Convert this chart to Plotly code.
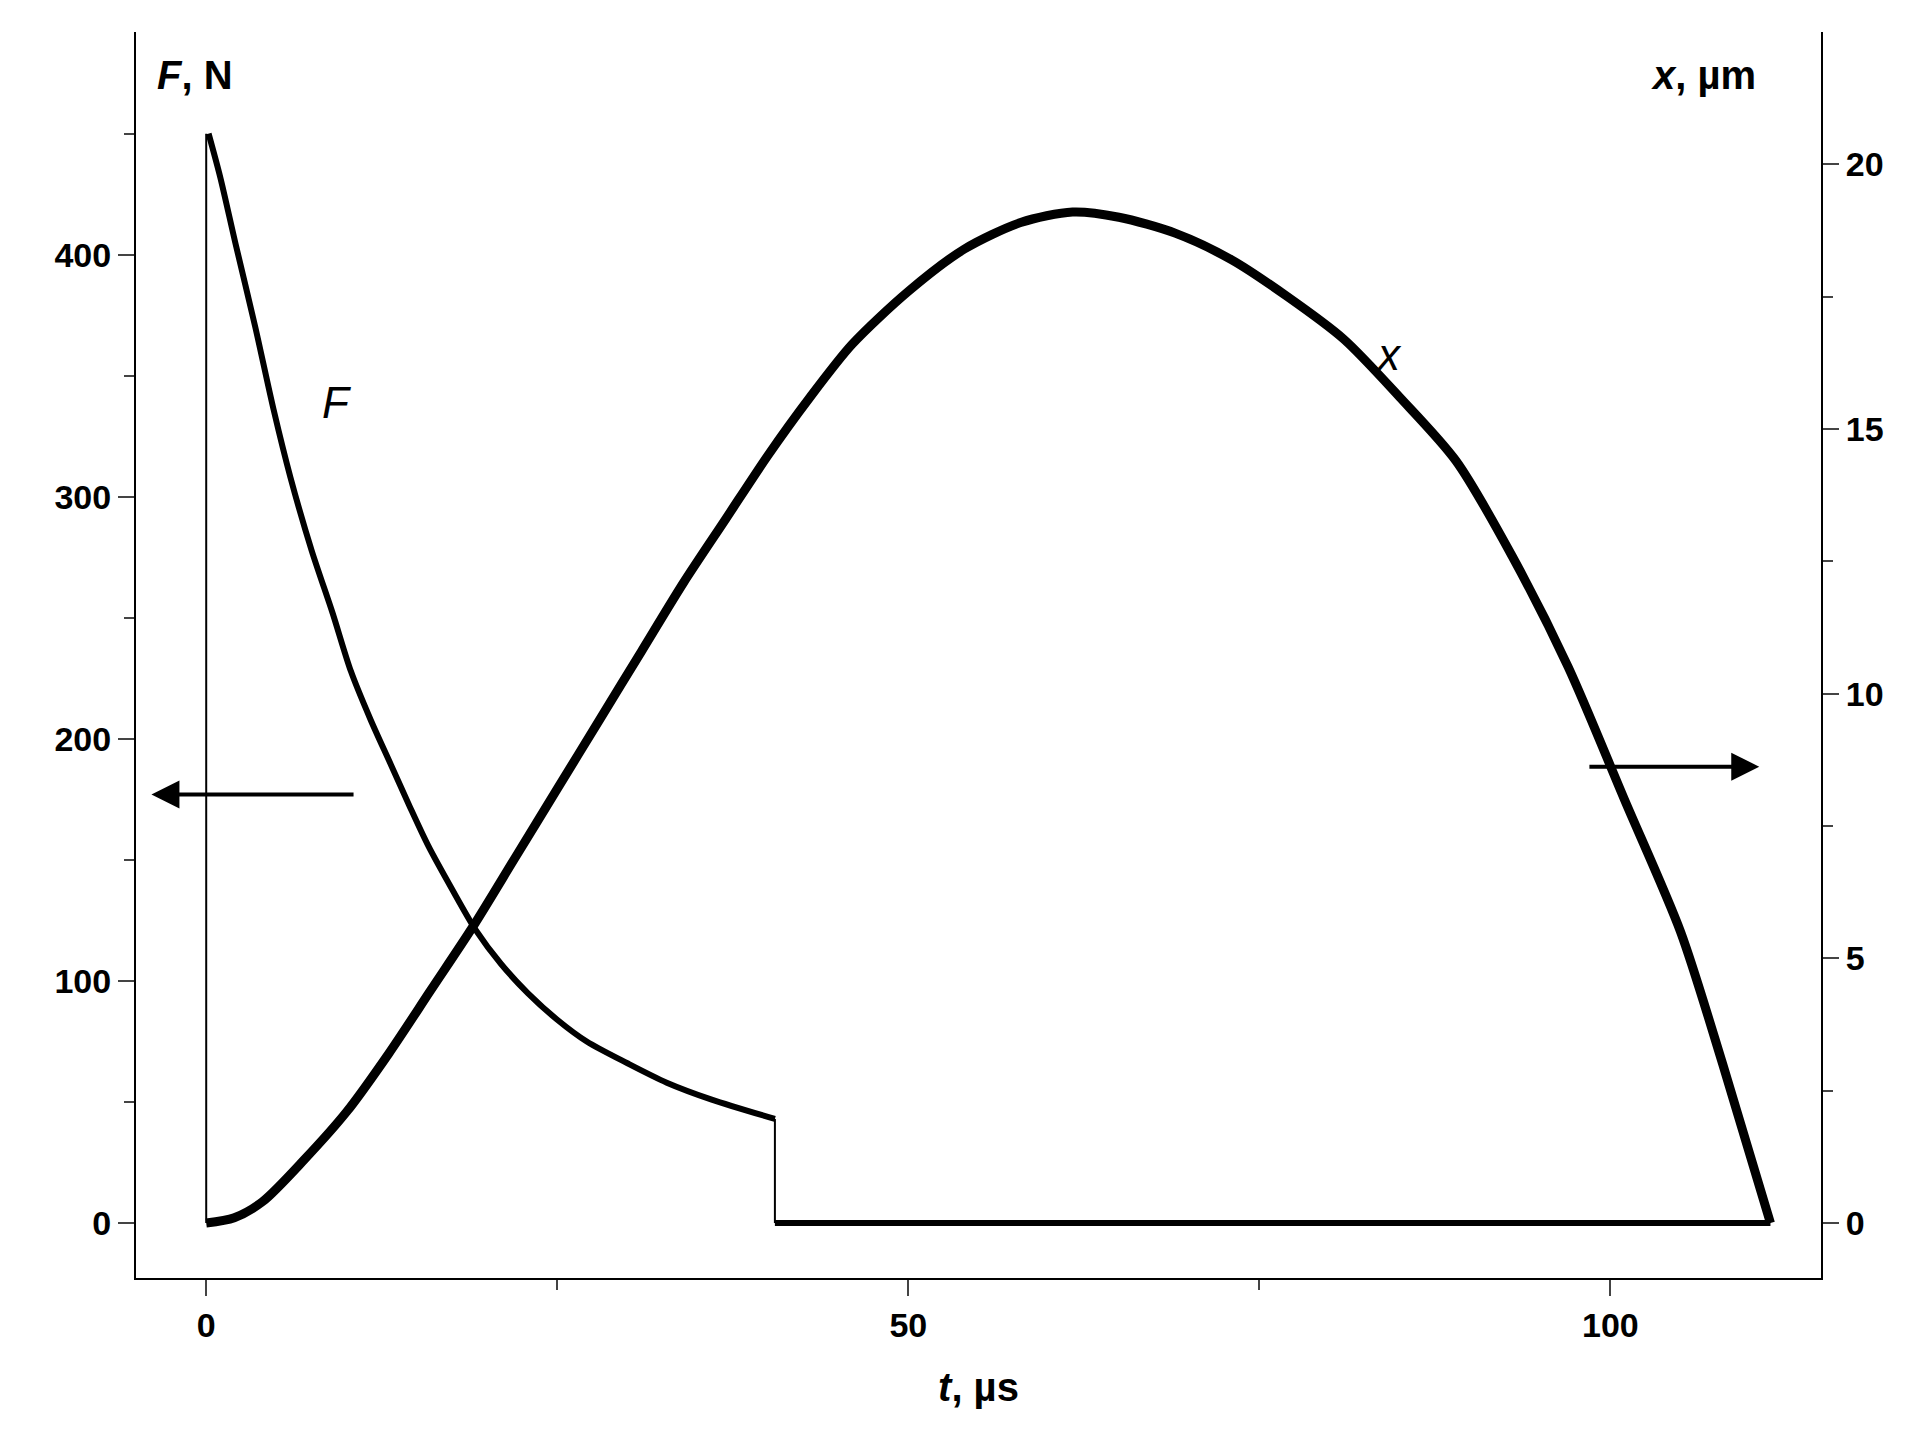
import plotly.graph_objects as go

t_F = [0.17, 1, 2.07, 3.5, 4.8, 6, 7.5, 9, 10.3, 11.7, 13.1, 14.5, 15.8, 17.5, 19.2, 21, 22.9, 25, 27.1, 30, 32.8, 36, 40.5]
F_vals = [450, 432, 405, 370, 336, 308, 278, 252, 228, 208, 190, 172, 156, 138, 121, 107, 95, 84, 75, 66, 58, 51, 43]
t_Fjump = [0, 0, None, 40.5, 40.5]
F_jump = [0, 450, None, 43, 0]
t_Fzero = [40.5, 111.4]
F_zero = [0, 0]

t_x = [0, 2, 4, 7, 10, 13, 16, 19, 22, 25, 28, 31, 34, 37, 40, 43, 46, 50, 54, 58, 61.7, 65, 69, 73, 77, 81, 85, 89, 93, 97, 101, 105, 108, 111.4]
x_vals = [0, 0.1, 0.4, 1.2, 2.1, 3.2, 4.4, 5.6, 6.9, 8.2, 9.5, 10.8, 12.1, 13.3, 14.5, 15.6, 16.6, 17.6, 18.4, 18.9, 19.1, 19.0, 18.7, 18.2, 17.5, 16.7, 15.6, 14.4, 12.6, 10.5, 8.0, 5.5, 3.0, 0]

black = "black"
fig = go.Figure()
fig.add_trace(go.Scatter(x=t_Fjump, y=F_jump, mode="lines", line=dict(color=black, width=2), yaxis="y"))
fig.add_trace(go.Scatter(x=t_F, y=F_vals, mode="lines", line=dict(color=black, width=6, shape="spline", smoothing=0.8), yaxis="y"))
fig.add_trace(go.Scatter(x=t_Fzero, y=F_zero, mode="lines", line=dict(color=black, width=6), yaxis="y"))
fig.add_trace(go.Scatter(x=t_x, y=x_vals, mode="lines", line=dict(color=black, width=9, shape="spline", smoothing=0.8), yaxis="y2"))

font = dict(family="Liberation Sans, Arial", size=34, color=black, weight="bold")
fig.update_layout(
    width=1905, height=1437, showlegend=False,
    plot_bgcolor="white", paper_bgcolor="white",
    margin=dict(l=128, r=92, t=24, b=167),
    xaxis=dict(range=[-5, 115], tickvals=[0, 50, 100], ticks="outside", ticklen=16, tickwidth=2,
               showline=True, linecolor=black, linewidth=2, showgrid=False, zeroline=False,
               tickfont=font, minor=dict(tickvals=[25, 75], ticks="outside", ticklen=10, tickwidth=2),
               title=dict(text="<i>t</i>, µs", font=dict(family="Liberation Sans", size=40, weight="bold", color=black), standoff=30)),
    yaxis=dict(range=[-22.7, 492], tickvals=[0, 100, 200, 300, 400], ticks="outside", ticklen=16, tickwidth=2,
               showline=True, linecolor=black, linewidth=2, showgrid=False, zeroline=False, tickfont=font,
               minor=dict(tickvals=[50, 150, 250, 350, 450], ticks="outside", ticklen=10, tickwidth=2)),
    yaxis2=dict(range=[-1.04, 22.5], overlaying="y", side="right", tickvals=[0, 5, 10, 15, 20], ticks="outside",
                ticklen=16, tickwidth=2, showline=True, linecolor=black, linewidth=2, showgrid=False,
                zeroline=False, tickfont=font,
                minor=dict(tickvals=[2.5, 7.5, 12.5, 17.5], ticks="outside", ticklen=10, tickwidth=2)),
)
lab = dict(family="Liberation Sans", size=44, color=black)
fig.add_annotation(x=9.3, y=339, xref="x", yref="y", text="<i>F</i>", showarrow=False, font=lab)
fig.add_annotation(x=84.2, y=16.4, xref="x", yref="y2", text="<i>x</i>", showarrow=False, font=lab)
fig.add_annotation(x=0.035, y=0.985, xref="paper", yref="paper", text="<b><i>F</i>, N</b>", showarrow=False,
                   font=dict(family="Liberation Sans", size=40, color=black), xanchor="center", yanchor="top")
fig.add_annotation(x=0.93, y=0.985, xref="paper", yref="paper", text="<b><i>x</i>, µm</b>", showarrow=False,
                   font=dict(family="Liberation Sans", size=40, color=black), xanchor="center", yanchor="top")
fig.add_annotation(x=-3.9, y=177, ax=10.6, ay=177, xref="x", yref="y", axref="x", ayref="y", text="",
                   showarrow=True, arrowhead=2, arrowsize=1.4, arrowwidth=4, arrowcolor=black)
fig.add_annotation(x=110.6, y=8.62, ax=98.4, ay=8.62, xref="x", yref="y2", axref="x", ayref="y2", text="",
                   showarrow=True, arrowhead=2, arrowsize=1.4, arrowwidth=4, arrowcolor=black)
fig.write_html("out.html")
